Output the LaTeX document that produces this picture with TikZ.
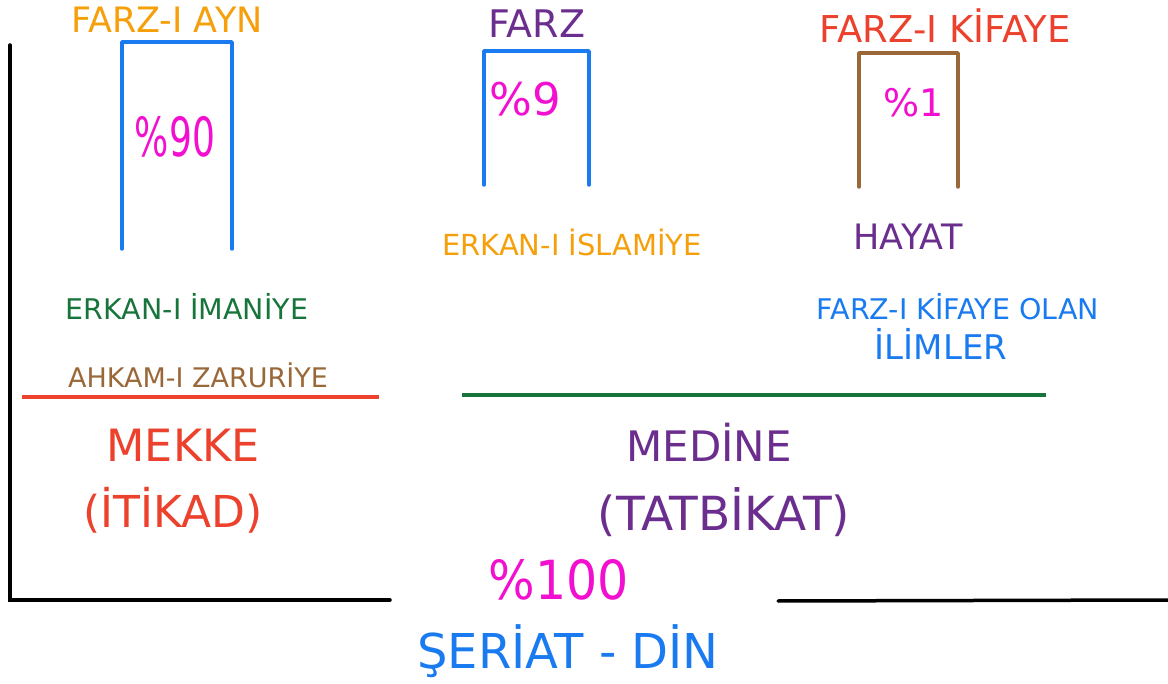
\documentclass[tikz,border=0pt]{standalone}
\usepackage{fontspec}
\usepackage{graphicx}
\setmainfont{DejaVu Sans}
\definecolor{corange}{HTML}{F5A00A}
\definecolor{cblue}{HTML}{1A7BF0}
\definecolor{cmag}{HTML}{F20FD0}
\definecolor{cgreen}{HTML}{17743A}
\definecolor{cbrown}{HTML}{9A6838}
\definecolor{cred}{HTML}{EC412C}
\definecolor{cpurple}{HTML}{6B2E8E}
\newcommand{\fs}[1]{\fontsize{#1}{#1}\selectfont}
\newcommand{\vstretch}[2]{\scalebox{1}[#1]{#2}}
\tikzset{
  lab/.style={inner sep=0pt, anchor=base},
  barline/.style={line width=3.5pt, line cap=round, line join=round},
  axisline/.style={line width=3.5pt, black, line cap=round},
}
\begin{document}
\begin{tikzpicture}[x=1pt,y=-1pt]
\useasboundingbox (0,0) rectangle (1168,684);
% axes
\draw[axisline] (10,45) -- (10,600) -- (390,600);
\draw[axisline] (778,601) -- (1168,600);
% bars
\draw[barline, cblue] (122,249) -- (122,42) -- (232,42) -- (232,249);
\draw[barline, cblue] (484,185) -- (484,51) -- (589,51) -- (589,185);
\draw[barline, cbrown] (859,187) -- (859,53) -- (958,53) -- (958,187);
% separator lines
\draw[line width=3.5pt, cred] (22,397) -- (379,397);
\draw[line width=3.5pt, cgreen] (462,395) -- (1046,395);
% labels
\node[lab, corange, font=\fs{35}] (t1) at (167,33) {FARZ-I AYN};
\node[lab, cmag, font=\fs{36}] (p1) at (175,157) {\vstretch{1.5}{\%90}};
\node[lab, cpurple, font=\fs{38}] (t2) at (537,38) {FARZ};
\node[lab, cmag, font=\fs{45}] (p2) at (525,116) {\%9};
\node[lab, cred, font=\fs{37}] (t3) at (945,43) {FARZ-I KİFAYE};
\node[lab, cmag, font=\fs{38}] (p3) at (914,117) {\%1};
\node[lab, corange, font=\fs{29}] (e2) at (572,256) {ERKAN-I İSLAMİYE};
\node[lab, cpurple, font=\fs{35}] (h3) at (908,250) {HAYAT};
\node[lab, cgreen, font=\fs{28.5}] (e1) at (187,320) {ERKAN-I İMANİYE};
\node[lab, cbrown, font=\fs{27}] (a1) at (198,388) {AHKAM-I ZARURİYE};
\node[lab, cblue, font=\fs{28.5}] (f3) at (958,320) {FARZ-I KİFAYE OLAN};
\node[lab, cblue, font=\fs{34}] (i3) at (941,360) {İLİMLER};
\node[lab, cred, font=\fs{44.5}] (m1) at (183,462) {MEKKE};
\node[lab, cred, font=\fs{44}] (m2) at (173,527) {(İTİKAD)};
\node[lab, cpurple, font=\fs{42}] (d1) at (709,462) {MEDİNE};
\node[lab, cpurple, font=\fs{47}] (d2) at (724,530) {(TATBİKAT)};
\node[lab, cmag, font=\fs{49}] (p0) at (559,599) {\vstretch{1.1}{\%100}};
\node[lab, cblue, font=\fs{48}] (s0) at (568,668) {ŞERİAT - DİN};
\end{tikzpicture}
\end{document}
